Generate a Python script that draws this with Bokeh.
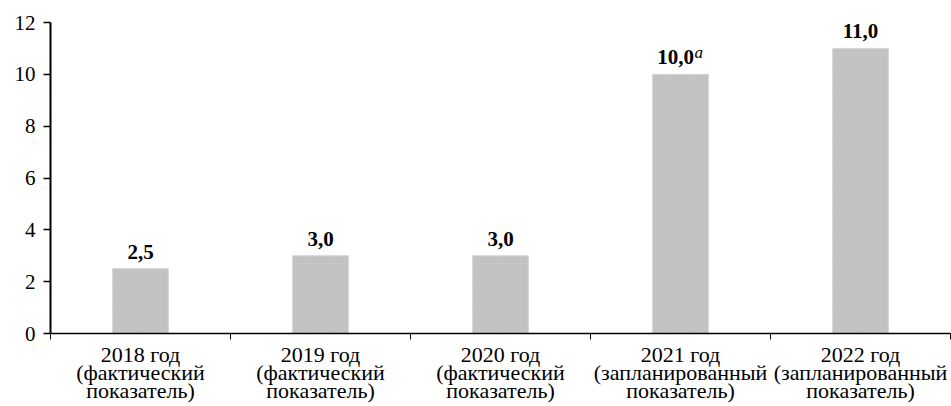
from bokeh.plotting import figure
from bokeh.models import ColumnDataSource, FixedTicker, Range1d
from bokeh.core.properties import value
from bokeh.embed import file_html
from bokeh.resources import INLINE

categories = [
    "2018 год\n(фактический\nпоказатель)",
    "2019 год\n(фактический\nпоказатель)",
    "2020 год\n(фактический\nпоказатель)",
    "2021 год\n(запланированный\nпоказатель)",
    "2022 год\n(запланированный\nпоказатель)",
]
values = [2.5, 3.0, 3.0, 10.0, 11.0]
value_labels = ["2,5", "3,0", "3,0", "10,0", "11,0"]
superscripts = ["", "", "", "a", ""]
y_ticks = [0, 2, 4, 6, 8, 10, 12]

n = len(categories)
centers = [i + 0.5 for i in range(n)]
boundaries = [float(i) for i in range(1, n + 1)]

src = ColumnDataSource(dict(
    x=centers, top=values, label=value_labels, sup=superscripts,
    shift=[-5 if s else 0 for s in superscripts],
))

FONT = "Liberation Serif"

p = figure(width=951, height=406, output_backend="svg", toolbar_location=None,
           x_range=Range1d(0, n), y_range=Range1d(0, 12),
           min_border_left=50, min_border_right=1, min_border_top=22, min_border_bottom=72)
p.outline_line_color = None
p.grid.grid_line_color = None
p.background_fill_color = "white"
p.border_fill_color = "white"

p.vbar(x="x", top="top", width=0.31, bottom=0, source=src,
       fill_color="#c0c0c0", line_color="#d6d6d6", line_width=1,
       hatch_pattern="dot", hatch_color="white", hatch_alpha=0.2, hatch_scale=3)

p.text(x="x", y="top", text="label", source=src, x_offset="shift", y_offset=-17,
       text_align="center", text_baseline="alphabetic",
       text_font=value(FONT), text_font_style="bold", text_font_size="21px",
       text_color="black")

p.text(x="x", y="top", text="sup", source=src, x_offset=14, y_offset=-22,
       text_align="left", text_baseline="alphabetic",
       text_font=value(FONT), text_font_style="italic", text_font_size="17px",
       text_color="black")

# x axis
xa = p.xaxis[0]
xa.ticker = FixedTicker(ticks=centers, minor_ticks=[0.0] + boundaries)
xa.major_label_overrides = {c: lab for c, lab in zip(centers, categories)}
xa.major_tick_out = 0
xa.major_tick_in = 0
xa.minor_tick_out = 6
xa.minor_tick_in = 0
xa.minor_tick_line_color = "black"
xa.minor_tick_line_width = 1
xa.axis_line_color = "black"
xa.axis_line_width = 1.5
xa.major_label_text_font = FONT
xa.major_label_text_font_size = "22px"
xa.major_label_text_color = "black"
xa.major_label_text_line_height = 0.73
xa.major_label_standoff = 2

# y axis
ya = p.yaxis[0]
ya.ticker = FixedTicker(ticks=y_ticks, minor_ticks=[])
ya.major_tick_out = 7
ya.major_tick_in = 0
ya.major_tick_line_color = "black"
ya.major_tick_line_width = 1.5
ya.axis_line_color = "black"
ya.axis_line_width = 2
ya.major_label_text_font = FONT
ya.major_label_text_font_size = "21px"
ya.major_label_text_color = "black"
ya.major_label_standoff = 8

open("out.html", "w").write(file_html(p, INLINE))
